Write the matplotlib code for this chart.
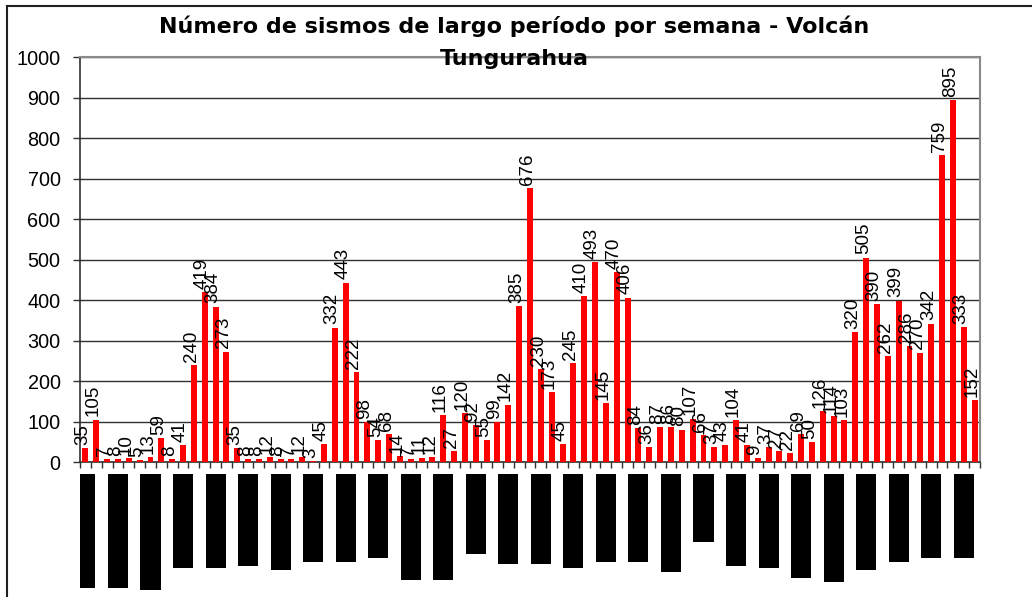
import numpy as np
import matplotlib.pyplot as plt
from matplotlib.lines import Line2D

# weekly counts of long-period events
counts = [35, 105, 7, 8, 10, 5, 13, 59, 8, 41,
          240, 419, 384, 273, 35, 8, 8, 12, 8, 7,
          12, 3, 45, 332, 443, 222, 98, 54, 68, 14,
          7, 11, 12, 116, 27, 120, 92, 55, 99, 142,
          385, 676, 230, 173, 45, 245, 410, 493, 145, 470,
          406, 84, 36, 87, 86, 80, 107, 66, 37, 43,
          104, 41, 9, 37, 27, 22, 69, 50, 126, 114,
          103, 320, 505, 390, 262, 399, 286, 270, 342, 759,
          895, 333, 152]

# the category labels are blacked out in the source: one block every 3 weeks
label_every = 3
label_block_len = [114, 114, 116, 94, 94, 92, 96, 88, 88, 84,
                   106, 106, 80, 90, 90, 94, 88, 88, 98, 68,
                   92, 94, 104, 108, 96, 88, 84, 84]

y_ticks = list(range(0, 1001, 100))
title_lines = ['Número de sismos de largo período por semana - Volcán',
               'Tungurahua']

W, H = 1032, 597
fig = plt.figure(figsize=(W / 100, H / 100), dpi=100)
plt.rcParams['font.family'] = ['Liberation Sans', 'DejaVu Sans']

n = len(counts)
x = np.arange(n)

ax = fig.add_axes([80 / W, 1 - 462 / H, 900 / W, (462 - 57.3) / H])
ax.bar(x, counts, width=0.55, color='#ff0000', zorder=3)
ax.set_xlim(-0.5, n - 0.5)
ax.set_ylim(0, 1000)
ax.set_yticks(y_ticks)
ax.set_yticklabels([str(t) for t in y_ticks], fontsize=14.3)
ax.set_xticks(np.arange(-0.5, n, 1))
ax.set_xticklabels([])
ax.tick_params(axis='x', direction='out', length=4, width=1, color='#303030')
ax.tick_params(axis='y', direction='out', length=5, width=1, color='#303030', pad=9)
ax.yaxis.grid(True, color='#303030', linewidth=1, zorder=0)
ax.set_axisbelow(True)
for s in ['top', 'right']:
    ax.spines[s].set_color('#8a8a8a')
    ax.spines[s].set_linewidth(1.5)
for s in ['left', 'bottom']:
    ax.spines[s].set_color('#303030')
    ax.spines[s].set_linewidth(1.2)

for i, v in enumerate(counts):
    ax.text(i - 0.25, v + 8, str(v), rotation=90, ha='center', va='bottom',
            fontsize=13.5, color='black', zorder=4, clip_on=False)

# blacked-out category labels
ax2 = fig.add_axes([80 / W, 0, 900 / W, (H - 474) / H])
lx = np.arange(0, n, label_every)[:len(label_block_len)]
ax2.bar(lx, label_block_len, width=1.85, color='black')
ax2.set_xlim(-0.5, n - 0.5)
ax2.set_ylim(H - 474, 0)
ax2.axis('off')

for line, ypx in zip(title_lines, [26, 59]):
    fig.text(514 / W, 1 - ypx / H, line, ha='center', va='center',
             fontsize=16, fontweight='bold', family='DejaVu Sans', zorder=10)

# outer chart frame (right and bottom edges fall outside the image)
top = 1 - 5.5 / H
fig.add_artist(Line2D([7 / W, 7 / W], [0, top], transform=fig.transFigure,
                      color='#202020', linewidth=1.5))
fig.add_artist(Line2D([7 / W, 1], [top, top], transform=fig.transFigure,
                      color='#202020', linewidth=1.5))

fig.savefig('out.png', dpi=100)
